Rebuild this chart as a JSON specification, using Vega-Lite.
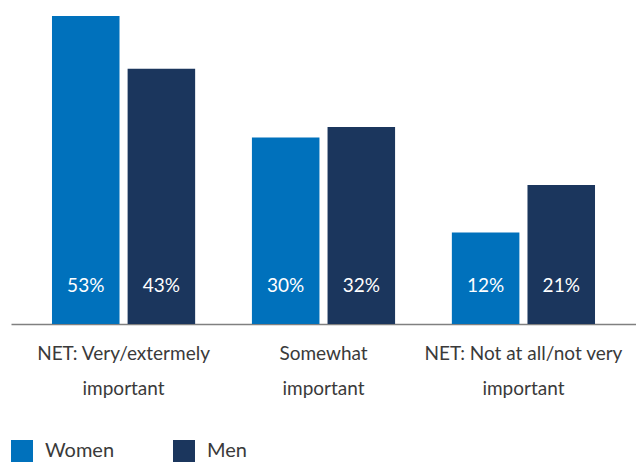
{
  "$schema": "https://vega.github.io/schema/vega-lite/v6.json",
  "width": 625,
  "height": 308,
  "padding": {"left": 11, "top": 16, "right": 0, "bottom": 0},
  "background": "white",
  "config": {
    "view": {"stroke": null},
    "font": "Lato",
    "text": {"font": "Lato"}
  },
  "data": {
    "values": [
      {"category": "NET: Very/extermely important", "gender": "Women", "share": 0.53},
      {"category": "NET: Very/extermely important", "gender": "Men", "share": 0.43},
      {"category": "Somewhat important", "gender": "Women", "share": 0.30},
      {"category": "Somewhat important", "gender": "Men", "share": 0.32},
      {"category": "NET: Not at all/not very important", "gender": "Women", "share": 0.12},
      {"category": "NET: Not at all/not very important", "gender": "Men", "share": 0.21}
    ]
  },
  "encoding": {
    "x": {
      "field": "category",
      "type": "nominal",
      "sort": null,
      "scale": {"paddingInner": 0.284, "paddingOuter": 0.205},
      "axis": {
        "title": null,
        "labelAngle": 0,
        "ticks": false,
        "domainColor": "#808080",
        "domainWidth": 1.5,
        "labelFont": "Lato",
        "labelFontSize": 19,
        "labelColor": "#3a3a3a",
        "labelPadding": 20,
        "labelLineHeight": 35,
        "labelLimit": 300,
        "labelExpr": "datum.label == 'NET: Very/extermely important' ? ['NET: Very/extermely','important'] : datum.label == 'Somewhat important' ? ['Somewhat','important'] : ['NET: Not at all/not very','important']"
      }
    },
    "xOffset": {
      "field": "gender",
      "type": "nominal",
      "sort": ["Women", "Men"],
      "scale": {"paddingInner": 0.107, "paddingOuter": 0}
    }
  },
  "layer": [
    {
      "mark": {"type": "bar"},
      "encoding": {
        "y": {
          "field": "share",
          "type": "quantitative",
          "scale": {"domain": [-0.053, 0.53], "nice": false, "zero": false},
          "axis": null
        },
        "y2": {"datum": -0.053},
        "color": {
          "field": "gender",
          "type": "nominal",
          "scale": {"domain": ["Women", "Men"], "range": ["#0071bc", "#1b365d"]},
          "legend": {
            "title": null,
            "orient": "bottom",
            "direction": "horizontal",
            "symbolType": "square",
            "symbolSize": 484,
            "symbolStrokeWidth": 0,
            "symbolOpacity": 1,
            "labelFont": "Lato",
            "labelFontSize": 20,
            "labelColor": "#3a3a3a",
            "labelOffset": 12,
            "columnPadding": 58,
            "offset": 42
          }
        }
      }
    },
    {
      "mark": {"type": "text", "color": "white", "fontSize": 19, "font": "Lato", "baseline": "middle", "dy": -10},
      "encoding": {
        "y": {"datum": 0, "type": "quantitative"},
        "text": {"field": "share", "type": "quantitative", "format": ".0%"}
      }
    }
  ]
}
